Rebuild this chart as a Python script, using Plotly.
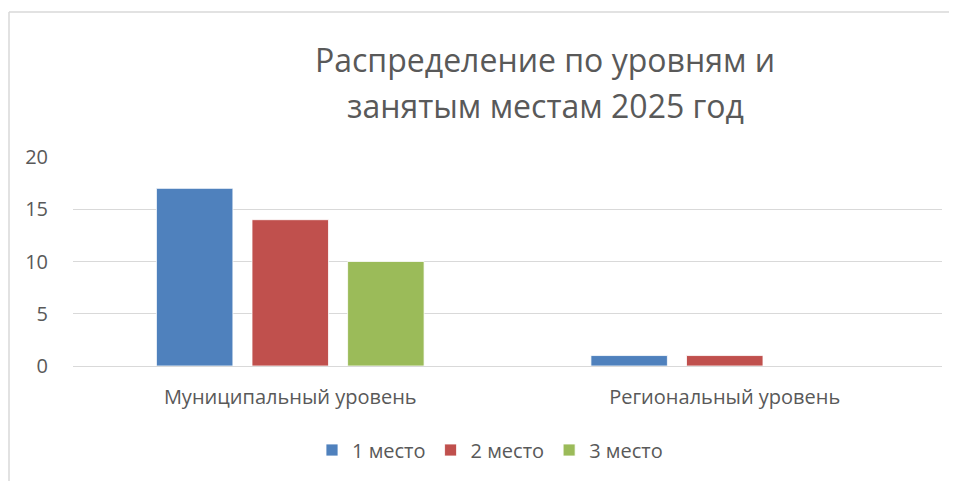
import plotly.graph_objects as go

categories = ["Муниципальный уровень", "Региональный уровень"]
series_names = ["1 место", "2 место", "3 место"]
place1 = [17, 1]
place2 = [14, 1]
place3 = [10, 0]
series_values = [place1, place2, place3]
colors = ["#4F81BD", "#C0504D", "#9BBB59"]
tick_vals = [0, 5, 10, 15, 20]
title_lines = ["Распределение по уровням и", "занятым местам 2025 год"]

FONT = "Open Sans"
GREY = "#595959"

fig = go.Figure()
for name, vals, col in zip(series_names, series_values, colors):
    fig.add_trace(go.Bar(
        x=categories, y=vals, name=name,
        marker=dict(color=col, line=dict(color="white", width=0.8)),
    ))

# page body has an 8px margin; compensate
OFF = 8
W, H = 957 - OFF, 481 - OFF
L, R, T, B = 73 - OFF, 15, 157 - OFF, 115
pw = W - L - R
ph = H - T - B

def px_x(x):
    return (x - OFF - L) / pw

def px_y(y):
    return (H - B - (y - OFF)) / ph

fig.update_layout(
    width=W, height=H,
    margin=dict(l=L, r=R, t=T, b=B),
    paper_bgcolor="white", plot_bgcolor="white",
    barmode="group", bargap=0.34, bargroupgap=0.2,
    font=dict(family=FONT, color=GREY, size=20),
    showlegend=True,
    legend=dict(
        orientation="h", x=px_x(490), xanchor="center",
        y=px_y(450), yanchor="middle",
        font=dict(size=20, color=GREY, family=FONT),
        traceorder="normal", itemwidth=30,
    ),
    xaxis=dict(
        showgrid=False, showline=True, linecolor="#D9D9D9", linewidth=1,
        ticks="", tickfont=dict(size=20, color=GREY), ticklabelstandoff=13,
    ),
    yaxis=dict(
        range=[0, 20], tickvals=tick_vals, showgrid=True, gridcolor="#D9D9D9",
        gridwidth=1, zeroline=False, showline=False, ticks="",
        tickfont=dict(size=20, color=GREY), ticklabelstandoff=24,
    ),
    annotations=[
        dict(text=title_lines[0], xref="paper", yref="paper",
             x=px_x(545), y=px_y(60), xanchor="center", yanchor="middle",
             showarrow=False, font=dict(size=32, color=GREY, family=FONT)),
        dict(text=title_lines[1], xref="paper", yref="paper",
             x=px_x(545), y=px_y(105), xanchor="center", yanchor="middle",
             showarrow=False, font=dict(size=32, color=GREY, family=FONT)),
    ],
    shapes=[
        dict(type="line", xref="paper", yref="paper",
             x0=px_x(9), x1=px_x(1000), y0=px_y(12), y1=px_y(12),
             line=dict(color="#D9D9D9", width=1.5)),
        dict(type="line", xref="paper", yref="paper",
             x0=px_x(9), x1=px_x(9), y0=px_y(12), y1=px_y(520),
             line=dict(color="#D9D9D9", width=1.5)),
    ],
)

fig.write_html("out.html", config={"displayModeBar": False})
